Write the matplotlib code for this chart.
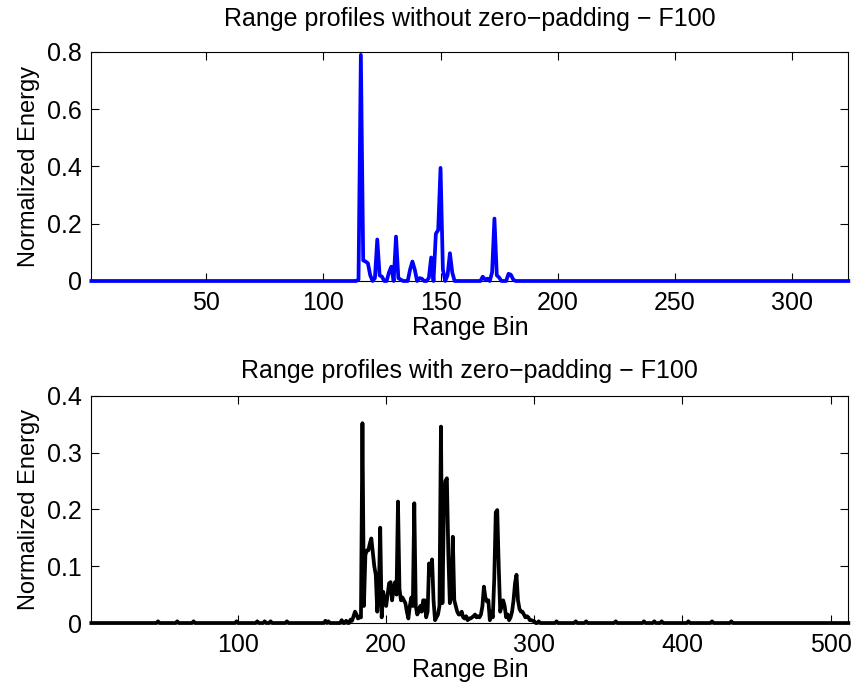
import numpy as np
import matplotlib

matplotlib.use("Agg")
import matplotlib.pyplot as plt

plt.rcParams["font.family"] = ["Liberation Sans", "DejaVu Sans"]

# top panel: 324 range bins, zero outside the target block
n_bins_top = 324
top_start = 115  # first bin of the block below
top_vals = [
    0.005, 0.79, 0.072, 0.068, 0.062, 0.02, 0.0, 0.01, 0.145, 0.02,    # 115-124
    0.015, 0.0, 0.0, 0.03, 0.05, 0.0, 0.155, 0.01, 0.005, 0.0,         # 125-134
    0.0, 0.0, 0.04, 0.068, 0.04, 0.0, 0.01, 0.008, 0.0, 0.0,           # 135-144
    0.01, 0.082, 0.0, 0.165, 0.178, 0.395, 0.04, 0.0, 0.02, 0.097,     # 145-154
    0.03, 0.0, 0.0, 0.0, 0.0, 0.0, 0.0, 0.0, 0.0, 0.0,                 # 155-164
    0.0, 0.0, 0.0, 0.015, 0.005, 0.008, 0.0, 0.03, 0.218, 0.02,        # 165-174
    0.012, 0.0, 0.0, 0.0, 0.025, 0.022, 0.005,                         # 175-181
]

# bottom panel: 512 bins after zero-padding
n_bins_bot = 512
bot_start = 176
bot_vals = [
    0.006, 0.004, 0.012, 0.02, 0.015, 0.008, 0.01, 0.01, 0.352, 0.03,   # 176-185
    0.12, 0.128, 0.128, 0.14, 0.149, 0.125, 0.10, 0.085, 0.02, 0.05,    # 186-195
    0.168, 0.01, 0.055, 0.04, 0.03, 0.05, 0.07, 0.072, 0.04, 0.06,      # 196-205
    0.072, 0.05, 0.214, 0.06, 0.04, 0.045, 0.04, 0.035, 0.02, 0.008,    # 206-215
    0.03, 0.045, 0.03, 0.211, 0.03, 0.015, 0.02, 0.03, 0.02, 0.04,      # 216-225
    0.04, 0.01, 0.02, 0.105, 0.085, 0.112, 0.04, 0.005, 0.01, 0.015,    # 226-235
    0.03, 0.346, 0.035, 0.2, 0.25, 0.255, 0.12, 0.035, 0.05, 0.152,     # 236-245
    0.04, 0.03, 0.02, 0.015, 0.015, 0.02, 0.01, 0.008, 0.012, 0.005,    # 246-255
    0.008, 0.008, 0.01, 0.012, 0.015, 0.01, 0.012, 0.01, 0.015, 0.03,   # 256-265
    0.064, 0.045, 0.038, 0.04, 0.005, 0.02, 0.01, 0.08, 0.195, 0.199,   # 266-275
    0.10, 0.02, 0.03, 0.04, 0.03, 0.01, 0.015, 0.005, 0.01, 0.02,       # 276-285
    0.04, 0.07, 0.085, 0.04, 0.025, 0.02, 0.02, 0.015, 0.01, 0.012,     # 286-295
    0.01, 0.005, 0.005, 0.004, 0.003,                                   # 296-300
]
# tiny blips along the bottom baseline
bot_blip_bins = [46, 59, 70, 99, 113, 118, 122, 133, 159, 161, 170, 173,
                 303, 315, 328, 335, 355, 374, 381, 386, 404, 420, 433]
bot_blip_vals = [0.003, 0.003, 0.003, 0.003, 0.003, 0.003, 0.003, 0.003,
                 0.004, 0.003, 0.005, 0.004, 0.003, 0.003, 0.003, 0.003,
                 0.003, 0.003, 0.003, 0.003, 0.003, 0.003, 0.003]

top_xticks = [50, 100, 150, 200, 250, 300]
top_yticks = [0, 0.2, 0.4, 0.6, 0.8]
bot_xticks = [100, 200, 300, 400, 500]
bot_yticks = [0, 0.1, 0.2, 0.3, 0.4]

FS = 18


def profile(n, start, vals, blip_bins=(), blip_vals=()):
    y = np.zeros(n)
    y[start - 1:start - 1 + len(vals)] = vals
    for b, v in zip(blip_bins, blip_vals):
        y[b - 1] = v
    return np.arange(1, n + 1), y


def style_axes(ax, title, xlim, ylim, xticks, yticks, title_pad):
    ax.set_xlim(*xlim)
    ax.set_ylim(*ylim)
    ax.set_xticks(xticks)
    ax.set_yticks(yticks)
    ax.set_yticklabels([f"{t:g}" for t in yticks])
    ax.tick_params(direction="in", top=True, right=True, length=6, width=0.8,
                   labelsize=FS, pad=7)
    ax.set_title(title, fontsize=FS, pad=title_pad)
    ax.set_xlabel("Range Bin", fontsize=FS, labelpad=1)
    ax.set_ylabel("Normalized Energy", fontsize=17, labelpad=5)
    for s in ax.spines.values():
        s.set_linewidth(0.8)


fig = plt.figure(figsize=(8.52, 6.86), dpi=100)
ax1 = fig.add_axes([0.1072, 0.5904, 0.8885, 0.3338])
ax2 = fig.add_axes([0.1072, 0.0918, 0.8885, 0.3310])

x1, y1 = profile(n_bins_top, top_start, top_vals)
ax1.plot(x1, y1, color="#0000ff", lw=2.7, clip_on=False, zorder=3)
style_axes(ax1, "Range profiles without zero\u2212padding \u2212 F100",
           (1, n_bins_top), (0, 0.8), top_xticks, top_yticks, 19)

x2, y2 = profile(n_bins_bot, bot_start, bot_vals, bot_blip_bins, bot_blip_vals)
ax2.plot(x2, y2, color="black", lw=2.7, clip_on=False, zorder=3)
style_axes(ax2, "Range profiles with zero\u2212padding \u2212 F100",
           (1, n_bins_bot), (0, 0.4), bot_xticks, bot_yticks, 13)

fig.savefig("out.png", dpi=100)
